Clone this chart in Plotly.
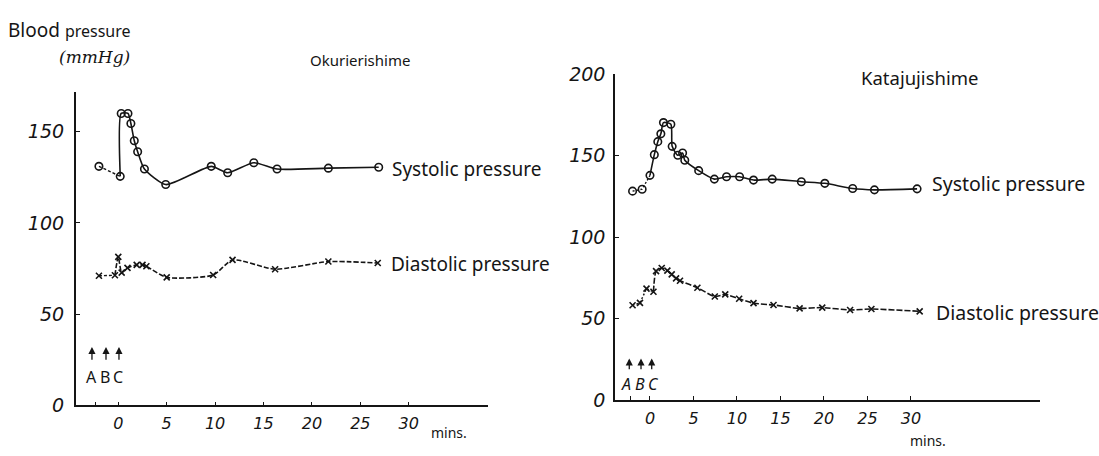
import plotly.graph_objects as go

# ---------------- data ----------------
# Left panel: Okurierishime
left_sys_t = [-2.0, 0.2, 0.3, 1.0, 1.3, 1.65, 2.0, 2.7, 4.9, 9.6, 11.3, 14.0, 16.4, 21.7, 26.9]
left_sys_v = [131, 125.5, 160, 160, 154.5, 145, 139, 129.5, 121, 131, 127.5, 133, 129.5, 130, 130.5]
left_dia_t = [-2.0, -0.35, 0.0, 0.35, 0.95, 1.9, 2.5, 2.9, 5.0, 9.8, 11.8, 16.2, 21.7, 26.8]
left_dia_v = [71, 71.3, 81.4, 72.7, 75.3, 77, 77, 76.2, 70.1, 71.4, 79.7, 74.6, 78.8, 78.0]

# Right panel: Katajujishime
right_sys_t = [-2.0, -0.9, 0.0, 0.5, 0.9, 1.25, 1.55, 2.4, 2.55, 3.2, 3.75, 4.0, 5.6, 7.4,
               8.8, 10.3, 11.9, 14.05, 17.4, 20.1, 23.3, 25.8, 30.7]
right_sys_v = [128.3, 129.5, 138, 150.7, 158.7, 163.5, 170.4, 169.4, 155.8, 150.3, 151.7, 147.3,
               140.9, 135.7, 137.1, 137.1, 135.1, 135.7, 134.1, 133.1, 129.9, 129.1, 129.7]
right_dia_t = [-2.0, -1.15, -0.4, 0.4, 0.7, 1.35, 2.0, 2.5, 3.0, 3.45, 5.45, 7.45, 8.65, 10.25,
               11.9, 14.2, 17.2, 19.8, 23.0, 25.45, 31.0]
right_dia_v = [58.2, 59.7, 68.4, 66.5, 79.2, 81.1, 79.5, 77.2, 74.7, 73.3, 69.0, 63.6, 64.9, 62.2,
               59.5, 58.4, 56.3, 56.8, 55.3, 55.9, 54.5]

x_tick_vals = [0, 5, 10, 15, 20, 25, 30]
left_y_ticks = [0, 50, 100, 150]
right_y_ticks = [0, 50, 100, 150, 200]
event_names = ["A", "B", "C"]
left_event_tick = -2.33
right_event_tick = -2.2
left_arrow_x = [-2.72, -1.27, 0.07]
left_letter_x = [-2.72, -1.37, -0.03]
right_arrow_x = [-2.38, -1.03, 0.2]
right_letter_x = [-2.79, -1.15, 0.46]

titles = ["Okurierishime", "Katajujishime"]
series_names = ["Systolic pressure", "Diastolic pressure"]

INK = "#151515"
TXT_FONT = "Noto Sans"
NUM_FONT = "DejaVu Sans"

fig = go.Figure()


def add_series(t, v, split, xa, ya, symbol, pre_dash, main_dash, msize):
    fig.add_trace(go.Scatter(x=t[:split + 1], y=v[:split + 1], mode="lines", xaxis=xa, yaxis=ya,
                             line=dict(color=INK, width=1.4, dash=pre_dash), showlegend=False,
                             hoverinfo="skip"))
    fig.add_trace(go.Scatter(x=t[split:], y=v[split:], mode="lines", xaxis=xa, yaxis=ya,
                             line=dict(color=INK, width=1.6, dash=main_dash, shape="spline",
                                       smoothing=0.6),
                             showlegend=False, hoverinfo="skip"))
    fig.add_trace(go.Scatter(x=t, y=v, mode="markers", xaxis=xa, yaxis=ya,
                             marker=dict(symbol=symbol, size=msize, color=INK,
                                         line=dict(color=INK, width=1.6)),
                             showlegend=False))


add_series(left_sys_t, left_sys_v, 1, "x", "y", "circle-open", "3px,2px", "solid", 7.5)
add_series(left_dia_t, left_dia_v, 1, "x", "y", "x-thin-open", "3px,2px", "5px,2px", 6)
add_series(right_sys_t, right_sys_v, 2, "x2", "y2", "circle-open", "2px,2px", "solid", 7.5)
add_series(right_dia_t, right_dia_v, 3, "x2", "y2", "x-thin-open", "2px,2px", "6px,2px", 6)

axis_common = dict(showline=True, linecolor=INK, linewidth=1.6, showgrid=False, zeroline=False,
                   ticks="inside", ticklen=4, tickwidth=1.4, tickcolor=INK)

fig.update_layout(
    width=1099, height=456,
    margin=dict(l=0, r=0, t=0, b=0),
    paper_bgcolor="white", plot_bgcolor="white",
    showlegend=False,
    xaxis=dict(domain=[75.7 / 1099, 487.7 / 1099], range=[-4.4, 38.16], anchor="y",
               tickvals=[left_event_tick] + x_tick_vals,
               ticktext=[""] + [str(v) for v in x_tick_vals],
               tickfont=dict(family=NUM_FONT, size=16, color=INK, style="italic"),
               ticklabelstandoff=3, **axis_common),
    yaxis=dict(domain=[(456 - 414.3) / 456, (456 - 85) / 456], range=[0, 171.8], anchor="x",
               tickvals=left_y_ticks, ticktext=[str(v) for v in left_y_ticks],
               tickfont=dict(family=NUM_FONT, size=19, color=INK, style="italic"),
               ticklabelstandoff=6, **axis_common),
    xaxis2=dict(domain=[615 / 1099, 1040 / 1099], range=[-4.02, 44.83], anchor="y2",
                tickvals=[right_event_tick] + x_tick_vals,
                ticktext=[""] + [str(v) for v in x_tick_vals],
                tickfont=dict(family=NUM_FONT, size=16, color=INK, style="italic"),
                ticklabelstandoff=3, **axis_common),
    yaxis2=dict(domain=[(456 - 408.8) / 456, (456 - 66.6) / 456], range=[0, 200], anchor="x2",
                tickvals=right_y_ticks, ticktext=[str(v) for v in right_y_ticks],
                tickfont=dict(family=NUM_FONT, size=19, color=INK, style="italic"),
                ticklabelstandoff=4, **axis_common),
)

ann = []
ann.append(dict(text=titles[0], xref="paper", yref="paper", x=359.5 / 1099, y=1 - 52 / 456,
                showarrow=False, xanchor="center", yanchor="middle",
                font=dict(family=TXT_FONT, size=15, color=INK)))
ann.append(dict(text=titles[1], xref="paper", yref="paper", x=919 / 1099, y=1 - 69.4 / 456,
                showarrow=False, xanchor="center", yanchor="middle",
                font=dict(family=TXT_FONT, size=18.5, color=INK)))
ann.append(dict(text="Blood <span style='font-size:16px'>pressure</span>", xref="paper",
                yref="paper", x=6 / 1099, y=1 - 20 / 456,
                showarrow=False, xanchor="left", yanchor="middle",
                font=dict(family=TXT_FONT, size=19, color=INK)))
ann.append(dict(text="(mmHg)", xref="paper", yref="paper", x=94 / 1099, y=1 - 48 / 456,
                showarrow=False, xanchor="center", yanchor="middle",
                font=dict(family="DejaVu Serif", size=17, color=INK, style="italic")))
ann.append(dict(text=series_names[0], xref="x", yref="y", x=28.1, y=129.5, showarrow=False,
                xanchor="left", yanchor="middle", font=dict(family=TXT_FONT, size=19, color=INK)))
ann.append(dict(text=series_names[1], xref="x", yref="y", x=27.95, y=77.4, showarrow=False,
                xanchor="left", yanchor="middle", font=dict(family=TXT_FONT, size=19, color=INK)))
ann.append(dict(text=series_names[0], xref="x2", yref="y2", x=32.2, y=133.1, showarrow=False,
                xanchor="left", yanchor="middle", font=dict(family=TXT_FONT, size=19.5, color=INK)))
ann.append(dict(text=series_names[1], xref="x2", yref="y2", x=32.7, y=53.9, showarrow=False,
                xanchor="left", yanchor="middle", font=dict(family=TXT_FONT, size=19.5, color=INK)))
ann.append(dict(text="mins.", xref="x", yref="paper", x=34.2, y=1 - 442.7 / 456, showarrow=False,
                xanchor="center", yanchor="middle", font=dict(family=TXT_FONT, size=14, color=INK)))
ann.append(dict(text="mins.", xref="x2", yref="paper", x=31.95, y=1 - 451 / 456, showarrow=False,
                xanchor="center", yanchor="middle", font=dict(family=TXT_FONT, size=14, color=INK)))

for xs, lx, tip, tail, ly, xr, yr, st in [
        (left_arrow_x, left_letter_x, 32.0, 24.2, 15.3, "x", "y", "normal"),
        (right_arrow_x, right_letter_x, 25.6, 18.0, 10.0, "x2", "y2", "italic")]:
    for ax_, lx_, name in zip(xs, lx, event_names):
        ann.append(dict(text="", x=ax_, y=tip, ax=ax_, ay=tail, xref=xr, yref=yr,
                        axref=xr, ayref=yr, showarrow=True, arrowhead=2, arrowsize=1.1,
                        arrowwidth=1.3, arrowcolor=INK, standoff=0, startstandoff=0))
        ann.append(dict(text=name, x=lx_, y=ly, xref=xr, yref=yr, showarrow=False,
                        xanchor="center", yanchor="middle",
                        font=dict(family=TXT_FONT, size=16, color=INK, style=st)))

fig.update_layout(annotations=ann)

fig.write_html("out.html")
